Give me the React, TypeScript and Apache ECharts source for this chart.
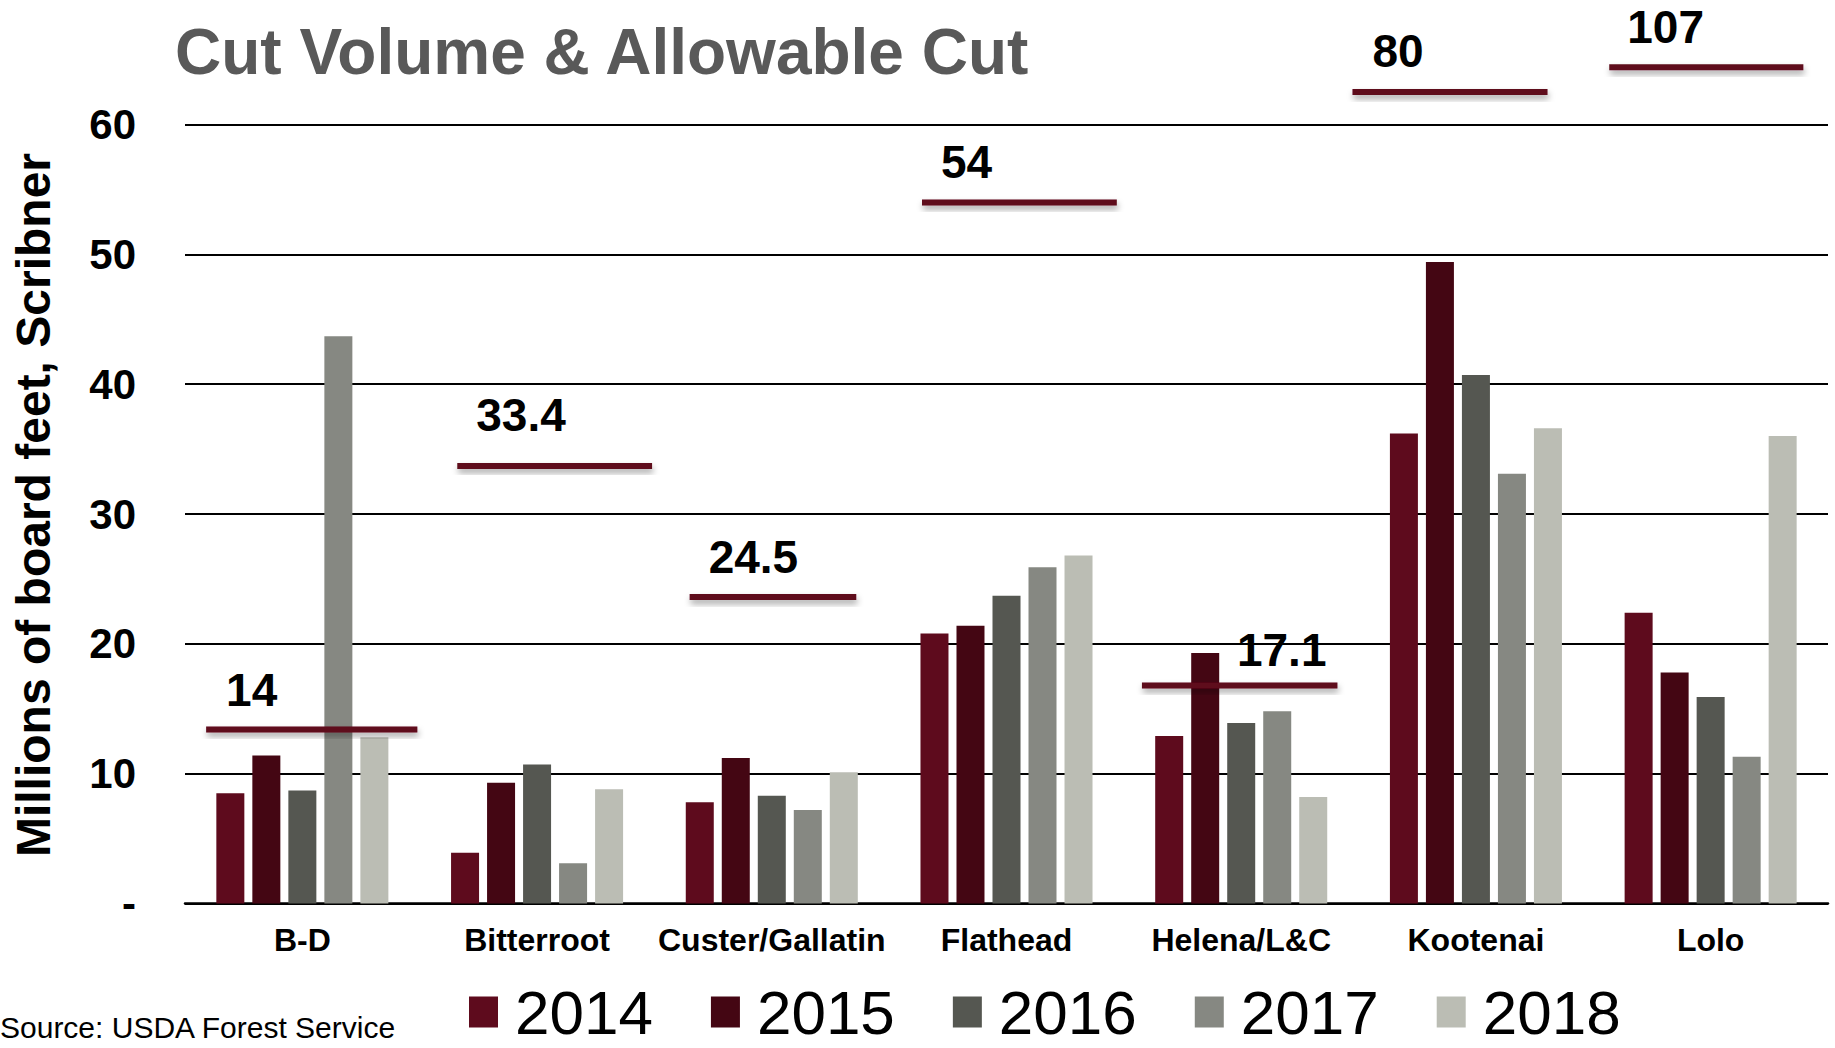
import React, { useEffect, useRef } from "react";
import * as echarts from "echarts";

// ---- data ----
const categories = ["B-D", "Bitterroot", "Custer/Gallatin", "Flathead", "Helena/L&C", "Kootenai", "Lolo"];
const years = ["2014", "2015", "2016", "2017", "2018"];
const cut2014 = [8.5, 3.9, 7.8, 20.8, 12.9, 36.2, 22.4];
const cut2015 = [11.4, 9.3, 11.2, 21.4, 19.3, 49.4, 17.8];
const cut2016 = [8.7, 10.7, 8.3, 23.7, 13.9, 40.7, 15.9];
const cut2017 = [43.7, 3.1, 7.2, 25.9, 14.8, 33.1, 11.3];
const cut2018 = [12.8, 8.8, 10.1, 26.8, 8.2, 36.6, 36.0];
const allowableCut = [14, 33.4, 24.5, 54, 17.1, 80, 107];
// level (axis units) at which each allowable-cut bar is drawn in the picture
const allowableLineLevel = [13.4, 33.7, 23.6, 54.0, 16.8, 62.5, 64.4];
const yTicks = [0, 10, 20, 30, 40, 50, 60];

// ---- layout / style ----
const yearColors = ["#5E0B1D", "#440613", "#555751", "#868882", "#BBBDB4"];
const lineSpan = [
  [0.09, 0.99],
  [0.16, 0.99],
  [0.15, 0.86],
  [0.14, 0.97],
  [0.077, 0.91],
  [-0.026, 0.805],
  [0.068, 0.895],
];
const labelDx = [20, 19, 19, 19, 95, 20, 18];
const labelDy = [40, 51, 40, 40, 35, 41, 40];
const FONT = '"Liberation Sans", Arial, sans-serif';

export default function App() {
  const ref = useRef<HTMLDivElement>(null);

  useEffect(() => {
    if (!ref.current) return;
    const chart = echarts.init(ref.current, null, { renderer: "svg" });
    const seriesData = [cut2014, cut2015, cut2016, cut2017, cut2018];

    const barSeries = years.map((y, i) => ({
      name: y,
      type: "bar",
      data: seriesData[i],
      barWidth: 28,
      barGap: "28.6%",
      itemStyle: { color: yearColors[i] },
      z: 2,
    }));

    const allowSeries = {
      type: "custom",
      name: "Allowable",
      clip: false,
      z: 5,
      silent: true,
      data: categories.map((_, i) => [i, allowableLineLevel[i]]),
      encode: { x: 0, y: 1 },
      renderItem: (params: any, api: any) => {
        const idx = params.dataIndex;
        const c = api.coord([api.value(0), api.value(1)]);
        const band = api.size([1, 0])[0];
        const left = c[0] - band / 2;
        const x1 = left + lineSpan[idx][0] * band;
        const x2 = left + lineSpan[idx][1] * band;
        return {
          type: "group",
          children: [
            {
              type: "rect",
              shape: { x: x1, y: c[1] - 3, width: x2 - x1, height: 6 },
              style: {
                fill: "#5E0B1D",
                shadowColor: "rgba(0,0,0,0.35)",
                shadowBlur: 6,
                shadowOffsetX: 1,
                shadowOffsetY: 4,
              },
            },
            {
              type: "text",
              x: x1 + labelDx[idx],
              y: c[1] - labelDy[idx],
              style: {
                text: String(allowableCut[idx]),
                fill: "#000",
                font: `bold 46px ${FONT}`,
                align: "left",
                verticalAlign: "middle",
              },
            },
          ],
        };
      },
    };

    chart.setOption({
      animation: false,
      backgroundColor: "#fff",
      grid: { left: 185, right: 7, top: 124.5, bottom: 144.5, containLabel: false },
      legend: {
        data: years,
        left: 464,
        top: 976,
        itemWidth: 29,
        itemHeight: 31,
        itemGap: 58,
        icon: "rect",
        textStyle: {
          fontFamily: FONT,
          fontSize: 62,
          lineHeight: 62,
          color: "#000",
          padding: [0, 0, 0, 12],
        },
      },
      xAxis: {
        type: "category",
        data: categories,
        axisLine: { show: true, lineStyle: { color: "#000", width: 2.5 } },
        axisTick: { show: false },
        axisLabel: {
          color: "#000",
          fontFamily: FONT,
          fontWeight: "bold",
          fontSize: 32,
          lineHeight: 32,
          margin: 20,
          interval: 0,
        },
      },
      yAxis: {
        type: "value",
        min: yTicks[0],
        max: yTicks[yTicks.length - 1],
        interval: 10,
        axisLine: { show: false },
        axisTick: { show: false },
        splitLine: { show: true, lineStyle: { color: "#000", width: 2 } },
        axisLabel: {
          color: "#000",
          fontFamily: FONT,
          fontWeight: "bold",
          fontSize: 42,
          margin: 49,
          formatter: (v: number) => (v === 0 ? "-" : String(v)),
        },
      },
      graphic: [
        {
          type: "text",
          left: 175,
          top: 20,
          style: {
            text: "Cut Volume & Allowable Cut",
            fill: "#595959",
            font: `bold 64px ${FONT}`,
          },
        },
        {
          type: "text",
          x: 33,
          y: 505,
          rotation: Math.PI / 2,
          style: {
            text: "Millions of board feet, Scribner",
            fill: "#000",
            font: `bold 48px ${FONT}`,
            align: "center",
            verticalAlign: "middle",
          },
        },
        {
          type: "text",
          left: 0,
          top: 1012,
          style: {
            text: "Source: USDA Forest Service",
            fill: "#000",
            font: `30px ${FONT}`,
          },
        },
      ],
      series: [...barSeries, allowSeries],
    });

    return () => chart.dispose();
  }, []);

  return (
    <div
      ref={ref}
      style={{ position: "absolute", left: 0, top: 0, width: 1835, height: 1048 }}
    />
  );
}
